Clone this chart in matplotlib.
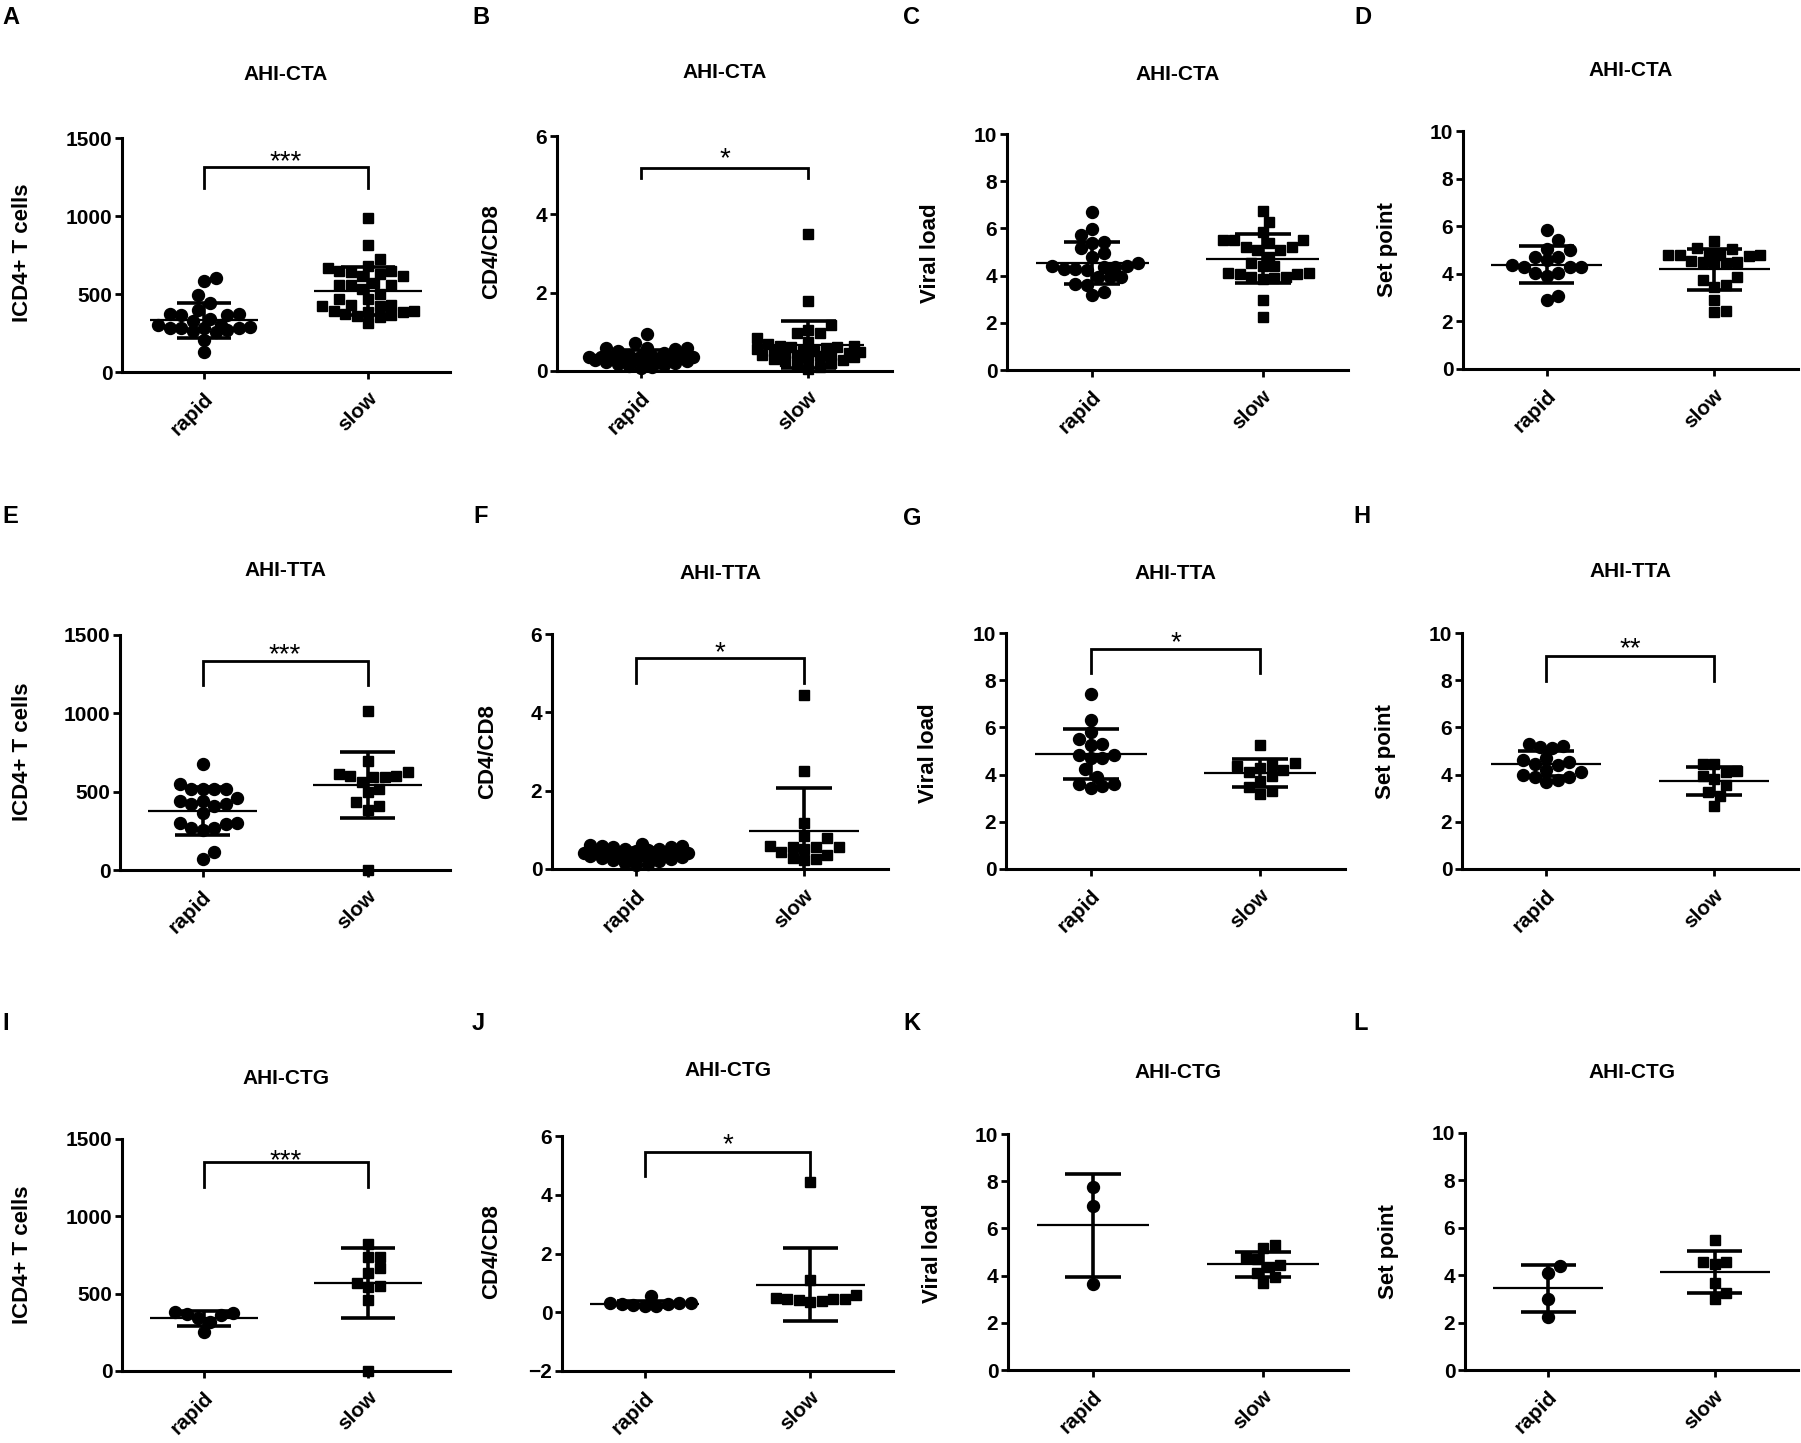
import numpy as np
import matplotlib
matplotlib.use("Agg")
import matplotlib.pyplot as plt
import matplotlib.transforms as mtransforms

plt.rcParams['font.family'] = ['Liberation Sans', 'DejaVu Sans']
plt.rcParams['font.weight'] = 'bold'

groups = ['rapid', 'slow']

# --- ICD4+ T cells ---
cd4_cta_rapid = [604, 583, 493, 444, 396, 375, 370, 364, 364, 340, 330, 300, 300, 290, 285,
                 283, 283, 280, 270, 260, 255, 204, 129]
cd4_cta_slow = [986, 814, 722, 679, 669, 650, 650, 640, 630, 615, 615, 570, 560, 560, 560, 530,
                503, 465, 465, 430, 430, 420, 420, 390, 390, 385, 385, 370, 365, 360, 355, 311]
cd4_tta_rapid = [674, 549, 520, 515, 520, 515, 440, 460, 420, 420, 440, 410, 362, 300, 295,
                 265, 255, 265, 300, 117, 68]
cd4_tta_slow = [1017, 698, 623, 600, 595, 595, 600, 610, 560, 500, 515, 409, 436, 383, 0]
cd4_ctg_rapid = [384, 368, 362, 375, 340, 318, 254]
cd4_ctg_slow = [821, 739, 739, 668, 636, 540, 570, 550, 459, 0]

# --- CD4/CD8 ---
ratio_cta_rapid = [0.95, 0.72, 0.6, 0.58, 0.55, 0.6, 0.5, 0.45, 0.4, 0.38, 0.38, 0.37, 0.36, 0.35,
                   0.35, 0.34, 0.33, 0.32, 0.3, 0.3, 0.28, 0.27, 0.25, 0.22, 0.2, 0.18, 0.15,
                   0.12, 0.1, 0.08]
ratio_cta_slow = [3.5, 1.78, 1.17, 1.05, 0.98, 0.97, 0.83, 0.75, 0.68, 0.65, 0.65, 0.62, 0.62, 0.6,
                  0.55, 0.52, 0.5, 0.5, 0.48, 0.45, 0.45, 0.42, 0.4, 0.4, 0.38, 0.35, 0.33, 0.3,
                  0.28, 0.25, 0.2, 0.15, 0.1, 0.05]
ratio_tta_rapid = [0.65, 0.62, 0.6, 0.58, 0.55, 0.55, 0.52, 0.5, 0.48, 0.45, 0.42, 0.42, 0.4, 0.4,
                   0.4, 0.38, 0.38, 0.36, 0.35, 0.35, 0.32, 0.3, 0.28, 0.25, 0.22, 0.2, 0.15,
                   0.12, 0.1]
ratio_tta_slow = [4.45, 2.51, 1.17, 0.78, 0.83, 0.56, 0.55, 0.44, 0.6, 0.52, 0.55, 0.27, 0.22,
                  0.25, 0.36]
ratio_ctg_rapid = [0.57, 0.3, 0.28, 0.25, 0.2, 0.22, 0.28, 0.3, 0.3]
ratio_ctg_slow = [4.43, 1.09, 0.48, 0.45, 0.42, 0.46, 0.45, 0.58, 0.35, 0.4]

# --- Viral load ---
vl_cta_rapid = [6.71, 5.96, 5.72, 5.44, 5.4, 5.15, 4.97, 4.8, 4.55, 4.38, 4.38, 4.3, 4.25, 4.3,
                4.4, 4.4, 3.95, 3.95, 3.95, 3.6, 3.65, 3.18, 3.32]
vl_cta_slow = [6.75, 6.29, 5.86, 5.5, 5.4, 5.5, 5.5, 5.2, 5.1, 5.1, 5.2, 4.8, 4.55, 4.4, 4.1,
               4.05, 3.95, 3.85, 3.95, 4.05, 4.1, 4.4, 2.97, 2.26, 3.9]
vl_tta_rapid = [7.4, 6.3, 5.8, 5.49, 5.25, 5.3, 4.82, 4.7, 4.85, 4.7, 4.22, 3.6, 3.45, 3.5,
                3.62, 3.9]
vl_tta_slow = [5.25, 4.5, 4.42, 4.35, 4.2, 4.1, 4.3, 3.74, 3.48, 3.3, 3.16, 3.95]
vl_ctg_rapid = [7.77, 6.95, 3.63]
vl_ctg_slow = [5.15, 5.3, 4.73, 4.7, 4.45, 4.38, 4.1, 3.93, 3.67]

# --- Set point ---
sp_cta_rapid = [5.83, 5.44, 5.0, 5.05, 4.7, 4.72, 4.57, 4.3, 4.28, 4.3, 4.35, 4.05, 3.92, 4.05,
                2.9, 3.05]
sp_cta_slow = [5.38, 5.07, 5.05, 4.8, 4.8, 4.75, 4.78, 4.8, 4.78, 4.55, 4.5, 4.45, 4.45, 4.5,
               3.87, 3.76, 3.55, 3.45, 2.92, 2.38, 2.45]
sp_tta_rapid = [5.2, 5.12, 5.15, 5.3, 4.7, 4.45, 4.4, 4.55, 4.6, 4.0, 3.9, 3.7, 3.78, 3.9, 4.1, 4.2]
sp_tta_slow = [4.46, 4.46, 4.1, 4.15, 3.8, 3.92, 3.56, 3.28, 3.1, 2.67]
sp_ctg_rapid = [4.39, 4.11, 2.99, 2.23]
sp_ctg_slow = [5.49, 4.55, 4.55, 4.48, 3.66, 3.27, 2.99]

# mean and SD as drawn (rapid, slow)
means = {'A': [332, 521], 'B': [0.36, 0.67], 'C': [4.53, 4.71], 'D': [4.39, 4.2],
         'E': [378, 545], 'F': [0.40, 0.96], 'G': [4.87, 4.06], 'H': [4.46, 3.73],
         'I': [341, 567], 'J': [0.29, 0.94], 'K': [6.13, 4.49], 'L': [3.45, 4.14]}
sds = {'A': [112, 154], 'B': [0.17, 0.6], 'C': [0.9, 1.04], 'D': [0.78, 0.86],
       'E': [152, 210], 'F': [0.14, 1.1], 'G': [1.05, 0.6], 'H': [0.53, 0.58],
       'I': [50, 227], 'J': [0.1, 1.25], 'K': [2.17, 0.53], 'L': [1.0, 0.88]}

# significance brackets: leg bottom, bar, star centre, label
brackets = {'A': (1180, 1314, 1404, '***'), 'B': (4.93, 5.18, 5.64, '*'),
            'E': (1181, 1334, 1430, '***'), 'F': (4.75, 5.39, 5.74, '*'),
            'G': (8.3, 9.32, 9.96, '*'), 'H': (7.97, 9.03, 9.7, '**'),
            'I': (1190, 1351, 1416, '***'), 'J': (4.64, 5.46, 6.0, '*')}

titles = {'A': 'AHI-CTA', 'B': 'AHI-CTA', 'C': 'AHI-CTA', 'D': 'AHI-CTA',
          'E': 'AHI-TTA', 'F': 'AHI-TTA', 'G': 'AHI-TTA', 'H': 'AHI-TTA',
          'I': 'AHI-CTG', 'J': 'AHI-CTG', 'K': 'AHI-CTG', 'L': 'AHI-CTG'}

panels = [
    ('A', cd4_cta_rapid, cd4_cta_slow, 'ICD4+ T cells', (0, 1500), [0, 500, 1000, 1500]),
    ('B', ratio_cta_rapid, ratio_cta_slow, 'CD4/CD8', (0, 6), [0, 2, 4, 6]),
    ('C', vl_cta_rapid, vl_cta_slow, 'Viral load', (0, 10), [0, 2, 4, 6, 8, 10]),
    ('D', sp_cta_rapid, sp_cta_slow, 'Set point', (0, 10), [0, 2, 4, 6, 8, 10]),
    ('E', cd4_tta_rapid, cd4_tta_slow, 'ICD4+ T cells', (0, 1500), [0, 500, 1000, 1500]),
    ('F', ratio_tta_rapid, ratio_tta_slow, 'CD4/CD8', (0, 6), [0, 2, 4, 6]),
    ('G', vl_tta_rapid, vl_tta_slow, 'Viral load', (0, 10), [0, 2, 4, 6, 8, 10]),
    ('H', sp_tta_rapid, sp_tta_slow, 'Set point', (0, 10), [0, 2, 4, 6, 8, 10]),
    ('I', cd4_ctg_rapid, cd4_ctg_slow, 'ICD4+ T cells', (0, 1500), [0, 500, 1000, 1500]),
    ('J', ratio_ctg_rapid, ratio_ctg_slow, 'CD4/CD8', (-2, 6), [-2, 0, 2, 4, 6]),
    ('K', vl_ctg_rapid, vl_ctg_slow, 'Viral load', (0, 10), [0, 2, 4, 6, 8, 10]),
    ('L', sp_ctg_rapid, sp_ctg_slow, 'Set point', (0, 10), [0, 2, 4, 6, 8, 10]),
]

# layout in pixels: left, top, right, bottom of each plot area
W, H = 1801, 1443
rects = {'A': (122, 138, 450, 372), 'B': (557, 136, 892, 371), 'C': (1007, 134, 1348, 370),
         'D': (1463, 131, 1798, 369), 'E': (120, 635, 450, 870), 'F': (552, 634, 888, 869),
         'G': (1006, 633, 1345, 869), 'H': (1462, 633, 1798, 869), 'I': (122, 1139, 450, 1371),
         'J': (562, 1136, 893, 1371), 'K': (1008, 1134, 1348, 1370), 'L': (1465, 1133, 1798, 1370)}
title_y = {'A': 75, 'B': 72, 'C': 75, 'D': 70, 'E': 570, 'F': 573, 'G': 573, 'H': 572,
           'I': 1079, 'J': 1070, 'K': 1073, 'L': 1072}
ylab_pos = {'A': (23, 253), 'B': (492, 252), 'C': (930, 253), 'D': (1387, 250),
            'E': (23, 752), 'F': (488, 752), 'G': (928, 753), 'H': (1385, 752),
            'I': (23, 1255), 'J': (492, 1252), 'K': (932, 1253), 'L': (1388, 1252)}
letter_pos = {'A': (2, 17), 'B': (472, 17), 'C': (903, 17), 'D': (1354, 17),
              'E': (2, 517), 'F': (473, 517), 'G': (903, 518), 'H': (1353, 517),
              'I': (2, 1024), 'J': (472, 1024), 'K': (903, 1024), 'L': (1353, 1024)}


def swarm(vals, ppu_y, ppu_x, d=11.5, max_w=54):
    # simple beeswarm, squeezed (allowing overlap) once a row gets too wide
    vals = np.asarray(vals, float)
    offs = np.zeros(len(vals))
    placed = []
    cands = [0.0]
    k = 1
    while k * d / 2 <= max_w:
        cands += [k * d / 2, -k * d / 2]
        k += 1
    for i in np.argsort(vals):
        y = vals[i] * ppu_y
        best, best_gap = 0.0, -1
        for c in cands:
            gap = min([np.hypot(c - px, y - py) for px, py in placed] or [1e9])
            if gap >= d * 0.95:
                best = c
                break
            if gap > best_gap + 0.5:
                best, best_gap = c, gap
        placed.append((best, y))
        offs[i] = best / ppu_x
    return offs


fig = plt.figure(figsize=(W / 100, H / 100), dpi=100)

for key, rapid, slow, ylab, ylim, yticks in panels:
    l, t, r, b = rects[key]
    ax = fig.add_axes([l / W, 1 - b / H, (r - l) / W, (b - t) / H])
    ax.set_xlim(-0.5, 1.5)
    ax.set_ylim(*ylim)
    ppu_y = (b - t) / (ylim[1] - ylim[0])
    ppu_x = (r - l) / 2.0

    for xi, (vals, mk, ms) in enumerate([(rapid, 'o', 8.6), (slow, 's', 7.4)]):
        offs = swarm(vals, ppu_y, ppu_x)
        ax.plot(xi + offs, vals, linestyle='none', marker=mk, markersize=ms,
                color='black', clip_on=False, zorder=3)
        m, s = means[key][xi], sds[key][xi]
        ax.hlines(m, xi - 0.33, xi + 0.33, color='black', lw=1.6, zorder=4)
        ax.hlines([m - s, m + s], xi - 0.165, xi + 0.165, color='black', lw=2.6, zorder=4)
        ax.vlines(xi, m - s, m + s, color='black', lw=2.6, zorder=4)

    if key in brackets:
        lo, hi, sy, lab = brackets[key]
        ax.plot([0, 0, 1, 1], [lo, hi, hi, lo], color='black', lw=2.0,
                solid_joinstyle='miter', clip_on=False)
        ax.annotate(lab, xy=(0.5, sy), xytext=(0, -16), textcoords='offset pixels',
                    ha='center', va='baseline', fontsize=20, fontweight='normal',
                    annotation_clip=False)

    for sp in ['top', 'right']:
        ax.spines[sp].set_visible(False)
    for sp in ['left', 'bottom']:
        ax.spines[sp].set_linewidth(2.2)
    ax.set_yticks(yticks)
    ax.set_xticks([0, 1])
    ax.tick_params(axis='both', width=2, length=5, labelsize=15, pad=2)
    ax.tick_params(axis='x', pad=12)
    ax.set_xticklabels(groups, rotation=45, ha='right', va='center', rotation_mode='anchor')
    shift = mtransforms.ScaledTranslation(0.06, 0, fig.dpi_scale_trans)
    for lab in ax.get_xticklabels():
        lab.set_transform(lab.get_transform() + shift)

    fig.text((l + r) / 2 / W, 1 - title_y[key] / H, titles[key], ha='center', va='center',
             fontsize=15)
    yx, yy = ylab_pos[key]
    fig.text(yx / W, 1 - yy / H, ylab, rotation=90, ha='center', va='center', fontsize=16)
    lx, ly = letter_pos[key]
    fig.text(lx / W, 1 - ly / H, key, ha='left', va='center', fontsize=17)

fig.savefig('out.png', dpi=100)
